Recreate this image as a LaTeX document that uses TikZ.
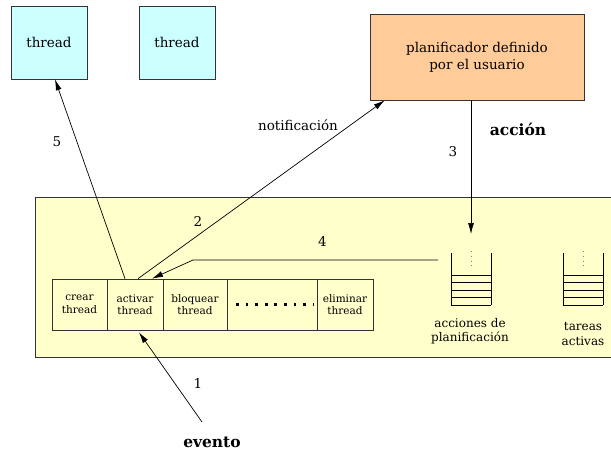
\documentclass[tikz,border=0pt]{standalone}
\usepackage{fontspec}
\setmainfont{DejaVu Serif}
\usetikzlibrary{arrows.meta}

\definecolor{threadfill}{HTML}{CCFFFF}
\definecolor{plannerfill}{HTML}{FFCC99}
\definecolor{areafill}{HTML}{FFFFCC}
\definecolor{edge}{HTML}{333333}

\begin{document}
\begin{tikzpicture}[x=1pt,y=-1pt,
  base/.style={draw=edge, line width=0.7pt, inner sep=0pt, align=center},
  threadbox/.style={base, fill=threadfill, minimum width=76pt, minimum height=73pt,
    font=\fontsize{13.5}{16}\selectfont},
  plannerbox/.style={base, fill=plannerfill, minimum width=214pt, minimum height=86pt,
    font=\fontsize{13.5}{17}\selectfont},
  cell/.style={base, minimum height=51pt, font=\fontsize{10.5}{12.5}\selectfont},
  arr/.style={line width=0.7pt, -{Latex[length=11pt,width=6pt]}},
  lbl/.style={inner sep=0pt, font=\fontsize{13.5}{16}\selectfont},
  stacklbl/.style={inner sep=0pt, align=center, font=\fontsize{12}{14.5}\selectfont},
  boldlbl/.style={inner sep=0pt, font=\fontsize{15.5}{18}\selectfont\bfseries},
  stackline/.style={draw=black, line width=0.7pt},
  stackdots/.style={draw=gray, line width=0.8pt, dash pattern=on 0.8pt off 4pt},
]
\clip (0,0) rectangle (611,452);

% runtime area
\draw[fill=areafill, draw=edge, line width=0.7pt] (35,197) rectangle (625,357);

% threads and user scheduler
\node[threadbox] (thr1) at (49,42.5) {thread};
\node[threadbox] (thr2) at (177,42.5) {thread};
\node[plannerbox] (planner) at (477,57) {planificador definido\\por el usuario};

% operation table
\node[cell, minimum width=55pt] (crear) at (79.5,304.5) {crear\\thread};
\node[cell, minimum width=56pt] (activar) at (135,304.5) {activar\\thread};
\node[cell, minimum width=64pt] (bloquear) at (195,304.5) {bloquear\\thread};
\node[cell, minimum width=90pt] (gap) at (272,304.5) {};
\node[cell, minimum width=56pt] (eliminar) at (345,304.5) {eliminar\\thread};
\draw[line width=2.7pt, dash pattern=on 2.7pt off 6.9pt] ([xshift=-36pt]gap.center) -- ([xshift=42pt]gap.center);

% queues
\foreach \qx/\qn in {451/acc, 563/act}{
  \draw[stackline] (\qx,253) -- (\qx,305);
  \draw[stackline] (\qx+40,253) -- (\qx+40,305);
  \foreach \qy in {275,282.5,290,297.5,305}
    \draw[stackline] (\qx,\qy) -- (\qx+40,\qy);
  \draw[stackdots] (\qx+20,251) -- (\qx+20,268);
  \coordinate (\qn) at (\qx+20,234);
}
\node[stacklbl] (acclbl) at (470,331) {acciones de\\planificación};
\node[stacklbl] (actlbl) at (583,334) {tareas\\activas};

% event source and free ends
\coordinate (evsrc) at (202,422);
\coordinate (q4) at (438,260);
\coordinate (q4bend) at (193,260);

% connectors
\draw[arr] ([xshift=-10pt]activar.north) -- ([xshift=6pt]thr1.south);
\draw[arr] ([xshift=3pt]activar.north) -- ([xshift=15pt]planner.south west);
\draw[arr] ([xshift=-6pt]planner.south) -- (acc);
\draw[arr] (q4) -- (q4bend) -- ([xshift=17pt]activar.north);
\draw[arr] (evsrc) -- ([xshift=4pt,yshift=-2pt]activar.south);

% labels
\node[lbl] (n1) at (198,383) {1};
\node[lbl] (n2) at (198,221) {2};
\node[lbl] (n3) at (453,152) {3};
\node[lbl] (n4) at (322.5,241) {4};
\node[lbl] (n5) at (57,142) {5};
\node[lbl] (notif) at (298,125) {notificación};
\node[boldlbl] (accion) at (518,129) {acción};
\node[boldlbl] (evento) at (212,442) {evento};
\end{tikzpicture}
\end{document}
